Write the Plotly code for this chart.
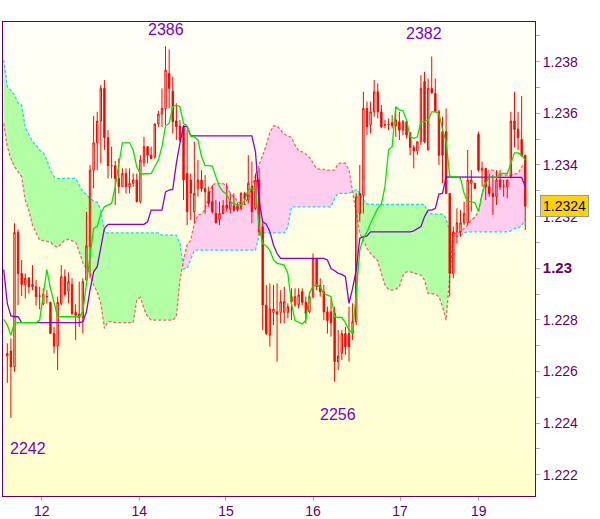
import numpy as np
import plotly.graph_objects as go

# ---------------- data (hourly bars, index 0..144) ----------------
opens = [1.22660, 1.22679, 1.22618, 1.23139, 1.22980, 1.22937, 1.22963, 1.22928, 1.22928, 1.22892,
         1.22861, 1.22890, 1.22868, 1.22747, 1.22698, 1.22864, 1.22967, 1.22911, 1.22937, 1.22829,
         1.22822, 1.22809, 1.22954, 1.23083, 1.23380, 1.23486, 1.23570, 1.23697, 1.23506, 1.23397,
         1.23397, 1.23348, 1.23316, 1.23367, 1.23316, 1.23329, 1.23342, 1.23258, 1.23409, 1.23471,
         1.23438, 1.23432, 1.23559, 1.23597, 1.23619, 1.23755, 1.23686, 1.23571, 1.23551, 1.23548,
         1.23367, 1.23342, 1.23219, 1.23309, 1.23342, 1.23309, 1.23296, 1.23258, 1.23212, 1.23189,
         1.23212, 1.23245, 1.23228, 1.23242, 1.23242, 1.23232, 1.23290, 1.23264, 1.23316, 1.23232,
         1.23342, 1.23161, 1.22857, 1.22741, 1.22829, 1.22831, 1.22829, 1.22829, 1.22829, 1.22890,
         1.22857, 1.22857, 1.22909, 1.22868, 1.22831, 1.22890, 1.23038, 1.22935, 1.22909, 1.22831,
         1.22831, 1.22827, 1.22638, 1.22670, 1.22747, 1.22747, 1.22747, 1.22793, 1.23212, 1.23283,
         1.23619, 1.23555, 1.23606, 1.23684, 1.23606, 1.23555, 1.23557, 1.23564, 1.23551, 1.23568,
         1.23535, 1.23568, 1.23525, 1.23468, 1.23455, 1.23490, 1.23723, 1.23458, 1.23697, 1.23677,
         1.23606, 1.23529, 1.23529, 1.23290, 1.22980, 1.23141, 1.23141, 1.23176, 1.23176, 1.23329,
         1.23329, 1.23519, 1.23380, 1.23387, 1.23316, 1.23290, 1.23277, 1.23342, 1.23318, 1.23316,
         1.23354, 1.23570, 1.23538, 1.23499, 1.23438]
highs = [1.22709, 1.22728, 1.23174, 1.23150, 1.23032, 1.22980, 1.22963, 1.23012, 1.22954, 1.22928,
         1.22922, 1.22915, 1.22870, 1.22773, 1.22890, 1.23012, 1.22995, 1.22984, 1.22961, 1.22860,
         1.22948, 1.22961, 1.23219, 1.23400, 1.23590, 1.23606, 1.23710, 1.23729, 1.23535, 1.23471,
         1.23416, 1.23425, 1.23387, 1.23387, 1.23387, 1.23367, 1.23367, 1.23438, 1.23509, 1.23471,
         1.23471, 1.23561, 1.23610, 1.23697, 1.23860, 1.23848, 1.23742, 1.23639, 1.23574, 1.23555,
         1.23535, 1.23367, 1.23490, 1.23419, 1.23380, 1.23361, 1.23316, 1.23322, 1.23264, 1.23258,
         1.23264, 1.23329, 1.23290, 1.23290, 1.23254, 1.23296, 1.23296, 1.23438, 1.23413, 1.23367,
         1.23387, 1.23180, 1.22935, 1.22941, 1.22935, 1.22941, 1.22915, 1.22928, 1.22864, 1.22922,
         1.22922, 1.22922, 1.22922, 1.22890, 1.22909, 1.23057, 1.23038, 1.22961, 1.22935, 1.22851,
         1.22883, 1.22851, 1.22760, 1.22760, 1.22773, 1.22851, 1.22864, 1.23290, 1.23400, 1.23684,
         1.23645, 1.23645, 1.23729, 1.23716, 1.23632, 1.23574, 1.23580, 1.23593, 1.23619, 1.23606,
         1.23574, 1.23574, 1.23525, 1.23477, 1.23490, 1.23748, 1.23761, 1.23735, 1.23820, 1.23735,
         1.23613, 1.23587, 1.23619, 1.23290, 1.23161, 1.23232, 1.23225, 1.23258, 1.23458, 1.23380,
         1.23329, 1.23529, 1.23413, 1.23387, 1.23367, 1.23361, 1.23380, 1.23380, 1.23342, 1.23342,
         1.23606, 1.23684, 1.23606, 1.23667, 1.23438]
lows = [1.22556, 1.22420, 1.22599, 1.22857, 1.22892, 1.22883, 1.22902, 1.22915, 1.22855, 1.22841,
        1.22857, 1.22864, 1.22745, 1.22670, 1.22605, 1.22857, 1.22890, 1.22864, 1.22818, 1.22722,
        1.22773, 1.22747, 1.22948, 1.22961, 1.23309, 1.23380, 1.23406, 1.23458, 1.23348, 1.23348,
        1.23245, 1.23290, 1.23316, 1.23290, 1.23290, 1.23316, 1.23255, 1.23251, 1.23393, 1.23406,
        1.23423, 1.23425, 1.23548, 1.23548, 1.23555, 1.23619, 1.23522, 1.23497, 1.23490, 1.23264,
        1.23167, 1.23187, 1.23174, 1.23277, 1.23296, 1.23212, 1.23238, 1.23212, 1.23174, 1.23167,
        1.23209, 1.23219, 1.23212, 1.23219, 1.23219, 1.23225, 1.23245, 1.23251, 1.23174, 1.23225,
        1.23128, 1.22760, 1.22741, 1.22696, 1.22780, 1.22638, 1.22786, 1.22786, 1.22806, 1.22799,
        1.22851, 1.22844, 1.22857, 1.22786, 1.22825, 1.22883, 1.22915, 1.22890, 1.22799, 1.22747,
        1.22735, 1.22560, 1.22605, 1.22644, 1.22664, 1.22638, 1.22722, 1.22780, 1.23180, 1.23212,
        1.23516, 1.23522, 1.23587, 1.23580, 1.23542, 1.23542, 1.23535, 1.23542, 1.23509, 1.23497,
        1.23516, 1.23503, 1.23438, 1.23387, 1.23438, 1.23477, 1.23484, 1.23458, 1.23677, 1.23606,
        1.23400, 1.23329, 1.23290, 1.22890, 1.22961, 1.23096, 1.23122, 1.23167, 1.23167, 1.23219,
        1.23309, 1.23374, 1.23316, 1.23264, 1.23277, 1.23206, 1.23245, 1.23303, 1.23277, 1.23271,
        1.23348, 1.23468, 1.23458, 1.23432, 1.23148]
closes = [1.22670, 1.22618, 1.23139, 1.22980, 1.22937, 1.22961, 1.22928, 1.22937, 1.22890, 1.22892,
          1.22900, 1.22890, 1.22747, 1.22698, 1.22868, 1.22967, 1.22899, 1.22948, 1.22825, 1.22818,
          1.22809, 1.22948, 1.23087, 1.23380, 1.23486, 1.23570, 1.23697, 1.23506, 1.23397, 1.23397,
          1.23348, 1.23316, 1.23367, 1.23316, 1.23329, 1.23342, 1.23258, 1.23419, 1.23471, 1.23438,
          1.23425, 1.23559, 1.23597, 1.23619, 1.23768, 1.23697, 1.23568, 1.23548, 1.23497, 1.23342,
          1.23219, 1.23290, 1.23290, 1.23342, 1.23309, 1.23296, 1.23251, 1.23219, 1.23176, 1.23212,
          1.23242, 1.23232, 1.23258, 1.23225, 1.23228, 1.23290, 1.23267, 1.23329, 1.23219, 1.23342,
          1.23141, 1.22857, 1.22747, 1.22842, 1.22842, 1.22822, 1.22870, 1.22870, 1.22851, 1.22870,
          1.22890, 1.22896, 1.22868, 1.22825, 1.22890, 1.23038, 1.22928, 1.22909, 1.22831, 1.22797,
          1.22789, 1.22638, 1.22660, 1.22747, 1.22696, 1.22696, 1.22793, 1.23277, 1.23290, 1.23619,
          1.23548, 1.23606, 1.23684, 1.23606, 1.23548, 1.23555, 1.23557, 1.23553, 1.23574, 1.23535,
          1.23568, 1.23516, 1.23468, 1.23455, 1.23490, 1.23697, 1.23490, 1.23697, 1.23680, 1.23606,
          1.23438, 1.23438, 1.23290, 1.22980, 1.23141, 1.23176, 1.23176, 1.23212, 1.23342, 1.23342,
          1.23309, 1.23380, 1.23387, 1.23316, 1.23290, 1.23277, 1.23342, 1.23316, 1.23318, 1.23342,
          1.23570, 1.23538, 1.23506, 1.23436, 1.23240]

# Ichimoku lines, one value per bar from bar -1 to bar 144
tenkan = [1.22802, 1.22780, 1.22741, 1.22789, 1.22789, 1.22789, 1.22789, 1.22789, 1.22789, 1.22789,
          1.22799, 1.22902, 1.22995, 1.22922, 1.22864, 1.22812, 1.22812, 1.22812, 1.22812, 1.22812,
          1.22812, 1.22812, 1.22831, 1.22941, 1.23057, 1.23154, 1.23161, 1.23212, 1.23238, 1.23245,
          1.23251, 1.23316, 1.23393, 1.23486, 1.23486, 1.23486, 1.23458, 1.23393, 1.23365, 1.23365,
          1.23365, 1.23367, 1.23393, 1.23419, 1.23471, 1.23551, 1.23561, 1.23626, 1.23632, 1.23626,
          1.23561, 1.23551, 1.23512, 1.23509, 1.23497, 1.23432, 1.23398, 1.23396, 1.23396, 1.23354,
          1.23316, 1.23296, 1.23287, 1.23258, 1.23249, 1.23245, 1.23245, 1.23264, 1.23305, 1.23309,
          1.23305, 1.23161, 1.23096, 1.23086, 1.23070, 1.23032, 1.23019, 1.23016, 1.23012, 1.22980,
          1.22864, 1.22797, 1.22789, 1.22784, 1.22799, 1.22902, 1.22931, 1.22935, 1.22928, 1.22902,
          1.22896, 1.22890, 1.22812, 1.22809, 1.22809, 1.22789, 1.22760, 1.22747, 1.22902, 1.23070,
          1.23116, 1.23141, 1.23174, 1.23200, 1.23232, 1.23249, 1.23316, 1.23458, 1.23471, 1.23626,
          1.23613, 1.23610, 1.23574, 1.23509, 1.23503, 1.23509, 1.23568, 1.23568, 1.23574, 1.23606,
          1.23606, 1.23600, 1.23538, 1.23490, 1.23357, 1.23354, 1.23354, 1.23348, 1.23290, 1.23258,
          1.23258, 1.23254, 1.23219, 1.23290, 1.23329, 1.23354, 1.23354, 1.23352, 1.23367, 1.23367,
          1.23367, 1.23406, 1.23447, 1.23447, 1.23438, 1.23419]
kijun = [1.22995, 1.22864, 1.22815, 1.22812, 1.22812, 1.22789, 1.22789, 1.22789, 1.22789, 1.22789,
         1.22789, 1.22789, 1.22789, 1.22789, 1.22789, 1.22789, 1.22789, 1.22789, 1.22789, 1.22789,
         1.22789, 1.22789, 1.22793, 1.22831, 1.22915, 1.22986, 1.23006, 1.23083, 1.23154, 1.23170,
         1.23170, 1.23170, 1.23170, 1.23170, 1.23170, 1.23170, 1.23170, 1.23170, 1.23170, 1.23170,
         1.23180, 1.23225, 1.23225, 1.23225, 1.23225, 1.23296, 1.23303, 1.23305, 1.23406, 1.23484,
         1.23551, 1.23548, 1.23513, 1.23513, 1.23513, 1.23513, 1.23513, 1.23513, 1.23513, 1.23513,
         1.23513, 1.23513, 1.23513, 1.23513, 1.23513, 1.23513, 1.23513, 1.23513, 1.23513, 1.23513,
         1.23451, 1.23264, 1.23180, 1.23171, 1.23141, 1.23090, 1.23057, 1.23038, 1.23038, 1.23038,
         1.23038, 1.23038, 1.23038, 1.23038, 1.23038, 1.23038, 1.23038, 1.23038, 1.23038, 1.23038,
         1.23032, 1.22999, 1.22990, 1.22980, 1.22976, 1.22967, 1.22864, 1.22922, 1.22993, 1.23116,
         1.23122, 1.23125, 1.23141, 1.23141, 1.23141, 1.23141, 1.23141, 1.23141, 1.23141, 1.23141,
         1.23141, 1.23141, 1.23141, 1.23141, 1.23145, 1.23152, 1.23161, 1.23200, 1.23225, 1.23225,
         1.23232, 1.23287, 1.23290, 1.23354, 1.23354, 1.23354, 1.23354, 1.23354, 1.23354, 1.23354,
         1.23354, 1.23354, 1.23354, 1.23354, 1.23354, 1.23354, 1.23354, 1.23354, 1.23354, 1.23354,
         1.23354, 1.23354, 1.23354, 1.23354, 1.23352, 1.23316]
senkou_a = [1.23807, 1.23703, 1.23690, 1.23671, 1.23639, 1.23632, 1.23546, 1.23516, 1.23490, 1.23477,
            1.23458, 1.23447, 1.23419, 1.23380, 1.23354, 1.23348, 1.23348, 1.23348, 1.23348, 1.23348,
            1.23348, 1.23322, 1.23296, 1.23287, 1.23271, 1.23261, 1.23256, 1.23225, 1.23137, 1.23137,
            1.23137, 1.23137, 1.23137, 1.23137, 1.23137, 1.23137, 1.23137, 1.23137, 1.23137, 1.23137,
            1.23137, 1.23137, 1.23137, 1.23137, 1.23128, 1.23128, 1.23128, 1.23128, 1.23128, 1.23096,
            1.22998, 1.22999, 1.23038, 1.23070, 1.23070, 1.23070, 1.23070, 1.23070, 1.23070, 1.23070,
            1.23070, 1.23070, 1.23070, 1.23070, 1.23070, 1.23070, 1.23070, 1.23070, 1.23070, 1.23070,
            1.23070, 1.23128, 1.23137, 1.23137, 1.23137, 1.23137, 1.23137, 1.23137, 1.23137, 1.23161,
            1.23238, 1.23238, 1.23238, 1.23238, 1.23238, 1.23238, 1.23238, 1.23238, 1.23238, 1.23238,
            1.23238, 1.23238, 1.23271, 1.23290, 1.23290, 1.23290, 1.23290, 1.23296, 1.23305, 1.23290,
            1.23264, 1.23249, 1.23247, 1.23247, 1.23247, 1.23247, 1.23247, 1.23247, 1.23247, 1.23247,
            1.23247, 1.23247, 1.23247, 1.23247, 1.23247, 1.23247, 1.23247, 1.23247, 1.23212, 1.23210,
            1.23210, 1.23210, 1.23210, 1.23193, 1.23141, 1.23125, 1.23122, 1.23125, 1.23137, 1.23141,
            1.23141, 1.23141, 1.23141, 1.23141, 1.23141, 1.23141, 1.23141, 1.23141, 1.23141, 1.23141,
            1.23141, 1.23145, 1.23154, 1.23154, 1.23167, 1.23187]
senkou_b = [1.23561, 1.23471, 1.23425, 1.23393, 1.23374, 1.23354, 1.23264, 1.23223, 1.23167, 1.23141,
            1.23109, 1.23107, 1.23105, 1.23101, 1.23087, 1.23081, 1.23094, 1.23109, 1.23112, 1.23107,
            1.23101, 1.23064, 1.23021, 1.22999, 1.22980, 1.22935, 1.22909, 1.22864, 1.22767, 1.22793,
            1.22793, 1.22789, 1.22789, 1.22789, 1.22789, 1.22789, 1.22789, 1.22877, 1.22887, 1.22844,
            1.22812, 1.22799, 1.22799, 1.22799, 1.22799, 1.22799, 1.22799, 1.22799, 1.22812, 1.22954,
            1.23032, 1.23090, 1.23109, 1.23174, 1.23206, 1.23210, 1.23228, 1.23283, 1.23322, 1.23329,
            1.23329, 1.23329, 1.23316, 1.23290, 1.23277, 1.23260, 1.23249, 1.23247, 1.23277, 1.23309,
            1.23361, 1.23400, 1.23438, 1.23477, 1.23525, 1.23551, 1.23551, 1.23535, 1.23520, 1.23512,
            1.23507, 1.23477, 1.23455, 1.23451, 1.23442, 1.23429, 1.23409, 1.23387, 1.23383, 1.23383,
            1.23380, 1.23380, 1.23380, 1.23404, 1.23409, 1.23406, 1.23380, 1.23296, 1.23212, 1.23135,
            1.23109, 1.23077, 1.23057, 1.23042, 1.23029, 1.22980, 1.22935, 1.22918, 1.22915, 1.22918,
            1.22928, 1.22973, 1.22986, 1.22986, 1.22980, 1.22977, 1.22973, 1.22954, 1.22902, 1.22900,
            1.22900, 1.22890, 1.22851, 1.22799, 1.22980, 1.23135, 1.23135, 1.23141, 1.23154, 1.23167,
            1.23187, 1.23197, 1.23219, 1.23290, 1.23354, 1.23380, 1.23380, 1.23374, 1.23361, 1.23361,
            1.23361, 1.23361, 1.23365, 1.23367, 1.23393, 1.23406]

x_tick_pos = [9.6, 36.7, 60.8, 85.0, 109.2, 131.1]
x_tick_text = ["12", "14", "15", "16", "17", "19"]
y_tick_vals = [1.222, 1.223, 1.224, 1.225, 1.226, 1.227, 1.228, 1.229, 1.230,
               1.231, 1.232, 1.233, 1.234, 1.235, 1.236, 1.237, 1.238, 1.239]
y_tick_text = ["1.222", "", "1.224", "", "1.226", "", "1.228", "",
               '<span style="font-size:15px"><b>1.23</b></span>', "",
               "1.232", "", "1.234", "", "1.236", "", "1.238", ""]

# ---------------- figure ----------------
n = len(opens)
xb = np.arange(n)
xl = np.arange(-1, n)
X_RANGE = [-1.195, 146.71]
Y_RANGE = [1.221175, 1.23954]

PURPLE = "#660066"
LABEL = "#7a00cc"
FONT = "Liberation Sans, Arial, sans-serif"

fig = go.Figure()

# background gradient
fig.add_trace(go.Scatter(
    x=[X_RANGE[0], X_RANGE[1], X_RANGE[1], X_RANGE[0], X_RANGE[0]],
    y=[Y_RANGE[0], Y_RANGE[0], Y_RANGE[1], Y_RANGE[1], Y_RANGE[0]],
    mode="none", fill="toself", hoverinfo="skip",
    fillgradient=dict(type="vertical", start=Y_RANGE[0], stop=Y_RANGE[1],
                      colorscale=[[0, "#ffffcc"], [0.5, "#ffffe2"], [1, "#fffffa"]]),
))

# cloud fills, split where the two spans cross
A = np.array(senkou_a)
B = np.array(senkou_b)
d = A - B
segs = []
cx, ca, cb = [xl[0]], [A[0]], [B[0]]
cs = np.sign(d[0])
for i in range(1, len(xl)):
    s = np.sign(d[i])
    if s != 0 and cs != 0 and s != cs:
        t = d[i - 1] / (d[i - 1] - d[i])
        xc = xl[i - 1] + t * (xl[i] - xl[i - 1])
        yc = A[i - 1] + t * (A[i] - A[i - 1])
        cx.append(xc); ca.append(yc); cb.append(yc)
        segs.append((cx, ca, cb, cs))
        cx, ca, cb, cs = [xc], [yc], [yc], s
    cx.append(xl[i]); ca.append(A[i]); cb.append(B[i])
    if cs == 0:
        cs = s
segs.append((cx, ca, cb, cs))
for sx, sa, sb, sg in segs:
    fig.add_trace(go.Scatter(
        x=list(sx) + list(sx[::-1]), y=list(sa) + list(sb[::-1]),
        mode="none", fill="toself", hoverinfo="skip",
        fillcolor="#b2ffa4" if sg > 0 else "#ffcdee",
    ))

fig.add_trace(go.Scatter(x=xl, y=senkou_a, mode="lines",
                         line=dict(color="#19dbf2", width=1.3, dash="3px,2px")))
fig.add_trace(go.Scatter(x=xl, y=senkou_b, mode="lines",
                         line=dict(color="#f06868", width=1.3, dash="3px,2px")))

# candles and tenkan / kijun on an overlaid subplot so they sit above the cloud
fig.add_trace(go.Candlestick(
    x=xb, open=opens, high=highs, low=lows, close=closes,
    xaxis="x2", yaxis="y2", whiskerwidth=0,
    increasing=dict(line=dict(color="#ff0000", width=1), fillcolor="rgba(0,0,0,0)"),
    decreasing=dict(line=dict(color="#ff0000", width=1), fillcolor="#ff0000"),
))
fig.add_trace(go.Scatter(x=xl, y=kijun, mode="lines", xaxis="x2", yaxis="y2",
                         line=dict(color="#8c00d2", width=1.3)))
fig.add_trace(go.Scatter(x=xl, y=tenkan, mode="lines", xaxis="x2", yaxis="y2",
                         line=dict(color="#00e600", width=1.3)))

# high / low labels
hi1 = int(np.argmax(highs))
hi2 = 100 + int(np.argmax(highs[100:]))
lo1 = int(np.argmin(lows))
lo2 = 60 + int(np.argmin(lows[60:110]))


def pip_label(v):
    return f"{int(round(v * 10000)) % 10000:04d}"


for idx, val, dx, dy in [(hi1, highs[hi1], 0, 16.5), (hi2, highs[hi2], -8, 23.5),
                         (lo1, lows[lo1], 17, -31), (lo2, lows[lo2], 3, -33)]:
    fig.add_annotation(x=idx, y=val, xref="x", yref="y", text=pip_label(val),
                       showarrow=False, xshift=dx, yshift=dy, xanchor="center", yanchor="middle",
                       font=dict(family=FONT, size=16, color=LABEL))

# last price box
fig.add_annotation(x=1, xref="paper", y=closes[-1], yref="y", text=f"{closes[-1]:.4f}",
                   showarrow=False, xanchor="left", yanchor="middle", xshift=5,
                   bgcolor="#ffd400", bordercolor="#8d9bb0", borderwidth=1, borderpad=2,
                   font=dict(family=FONT, size=14, color="#000000"))

axis_common = dict(showgrid=False, zeroline=False, showline=True, linecolor=PURPLE, linewidth=1,
                   mirror=True, ticks="outside", ticklen=4, tickwidth=1, tickcolor="#a4aebb",
                   tickfont=dict(family=FONT, size=14, color=PURPLE), fixedrange=True,
                   automargin=False)

fig.update_layout(
    width=600, height=519,
    margin=dict(l=3, r=65, t=22, b=23, autoexpand=False),
    paper_bgcolor="white", plot_bgcolor="#ffffe4",
    showlegend=False, boxgap=0.45, hovermode=False,
    xaxis=dict(range=X_RANGE, tickmode="array", tickvals=x_tick_pos, ticktext=x_tick_text,
               rangeslider=dict(visible=False), ticklabelstandoff=-2, **axis_common),
    yaxis=dict(range=Y_RANGE, side="right", tickmode="array", tickvals=y_tick_vals,
               ticktext=y_tick_text, **axis_common),
    xaxis2=dict(range=X_RANGE, overlaying="x", visible=False, rangeslider=dict(visible=False),
                fixedrange=True),
    yaxis2=dict(range=Y_RANGE, overlaying="y", visible=False, fixedrange=True),
)

fig.write_html("out.html", config={"displayModeBar": False},
               post_script="document.body.style.margin='0';document.body.style.padding='0';")
